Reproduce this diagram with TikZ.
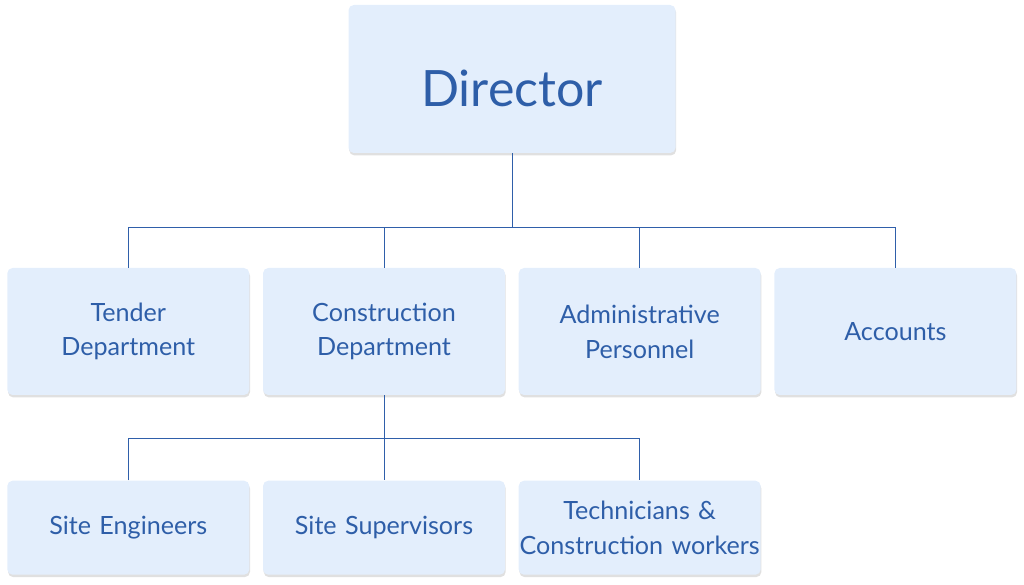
\documentclass[tikz,border=0pt]{standalone}
\usepackage{fontspec}
\setmainfont{Lato}
\usetikzlibrary{positioning,calc,shadows}
\definecolor{BoxBlue}{HTML}{E3EEFC}
\definecolor{TextBlue}{HTML}{2E5EA8}
\definecolor{LineBlue}{HTML}{2F5FAA}

\begin{document}
\begin{tikzpicture}[node distance=0.26cm]
\tikzstyle{box}=[rectangle,rounded corners=3pt,fill=BoxBlue,text=TextBlue,align=center,inner sep=0pt,drop shadow={shadow xshift=0.4pt,shadow yshift=-1.4pt,opacity=0.35,fill=black!35},font=\fontsize{14.3}{19.8}\selectfont]
\tikzstyle{top}=[box,minimum width=6.54cm,minimum height=2.96cm,text height=1.12cm,text depth=0pt,font=\fontsize{28.5}{34}\selectfont]
\tikzstyle{dept}=[box,text width=4.84cm,minimum height=2.54cm]
\tikzstyle{staff}=[box,text width=4.84cm,minimum height=1.88cm]
\tikzstyle{line}=[draw=LineBlue,line width=0.5pt]
\useasboundingbox (0,0) rectangle (20.48,-11.7);
\node[top] (dir) at (10.24,-1.58) {Director};
\node[dept] (cons) at (7.68,-6.63) {Construction\\Department};
\node[dept,left=of cons] (tender) {Tender\\Department};
\node[dept,right=of cons] (admin) {Administrative\\Personnel};
\node[dept,right=of admin] (acc) {Accounts};
\node[staff,below=1.7cm of cons] (sup) {Site Supervisors};
\node[staff,left=of sup] (eng) {Site Engineers};
\node[staff,right=of sup] (tech) {Technicians \&\\Construction workers};
% director to departments
\coordinate (bus1) at ($(dir.south)+(0,-1.48)$);
\draw[line] (dir.south) -- (bus1);
\draw[line] (tender.north) |- (bus1) -| (acc.north);
\draw[line] (cons.north) -- (cons.north|-bus1);
\draw[line] (admin.north) -- (admin.north|-bus1);
% construction to site staff
\coordinate (bus2) at ($(cons.south)+(0,-0.86)$);
\draw[line] (cons.south) -- (sup.north);
\draw[line] (eng.north) |- (bus2) -| (tech.north);
\end{tikzpicture}
\end{document}
